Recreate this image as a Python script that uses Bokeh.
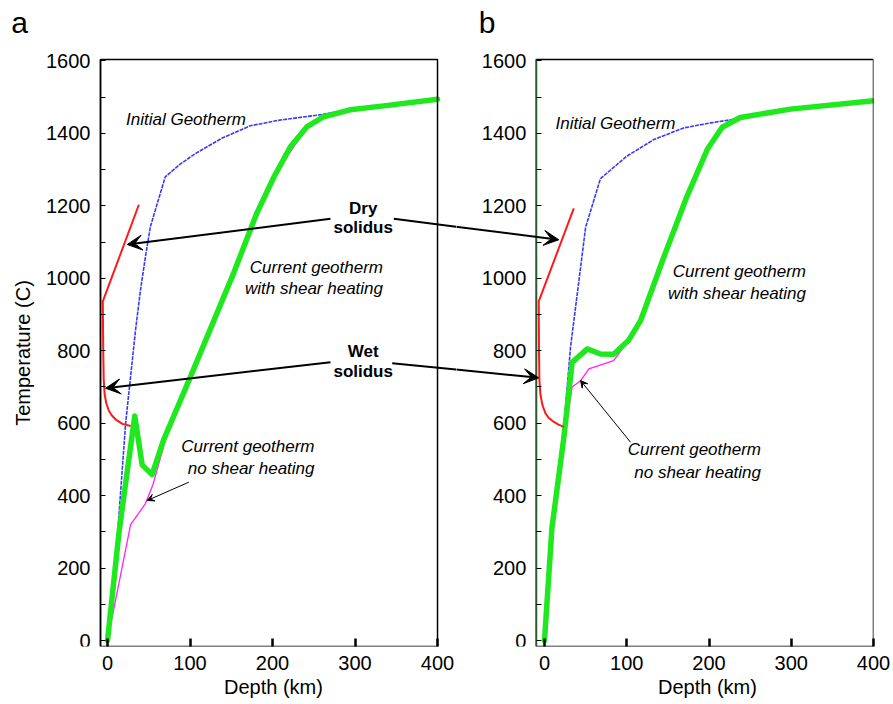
import math
from bokeh.plotting import figure
from bokeh.layouts import row
from bokeh.models import Range1d, FixedTicker, Label, Arrow, VeeHead, LinearAxis, Title
from bokeh.embed import file_html
from bokeh.resources import INLINE

# ---------------- data (depth km, temperature C) ----------------
# panel a
a_solidus_depth = [38, -5.7, -5.2, -4.6, -3.5, -1.5, 1.5, 5, 10, 18, 28]
a_solidus_temp = [1203, 936, 800, 720, 680, 655, 635, 622, 610, 598, 592]
a_initial_depth = [13, 22, 28, 34, 40, 46, 52, 70, 88, 107, 139, 173, 207, 256, 294, 335, 400]
a_initial_temp = [320, 601, 729, 858, 968, 1060, 1143, 1280, 1315, 1345, 1387, 1421, 1436, 1451, 1465, 1476, 1494]
a_shear_depth = [0, 14, 33, 42, 54, 68, 100, 153, 181, 202, 222, 242, 262, 294, 335, 400]
a_shear_temp = [0, 300, 620, 485, 458, 554, 725, 1015, 1180, 1281, 1364, 1419, 1446, 1465, 1476, 1494]
a_noshear_depth = [0, 28, 46, 55, 70, 100, 153, 202, 242, 262, 294, 335, 400]
a_noshear_temp = [0, 320, 378, 430, 552, 725, 1015, 1281, 1419, 1446, 1465, 1476, 1494]

# panel b
b_solidus_depth = [35.6, -7, -6.7, -6.2, -5, -2.5, 1.2, 5, 11, 17, 23.5]
b_solidus_temp = [1193, 936, 800, 720, 680, 650, 627, 615, 604, 596, 590]
b_initial_depth = [9, 23.5, 31.6, 40, 50, 68, 100, 133, 169, 202, 230, 238, 299, 400]
b_initial_temp = [320, 590, 809, 960, 1141, 1275, 1337, 1383, 1415, 1429, 1439, 1444, 1467, 1490]
b_shear_depth = [0, 9, 23.5, 33.6, 52, 68, 84, 102, 117, 145, 173, 198, 216, 238, 299, 400]
b_shear_temp = [0, 310, 560, 768, 805, 791, 790, 828, 884, 1058, 1225, 1356, 1417, 1444, 1467, 1490]
b_noshear_depth = [0, 9, 23.5, 33.6, 43.7, 54, 84, 100.5, 117, 145, 173, 198, 216, 238, 299, 400]
b_noshear_temp = [0, 305, 550, 700, 717, 750, 773, 823, 884, 1058, 1225, 1356, 1417, 1444, 1467, 1490]

y_ticks = [0, 200, 400, 600, 800, 1000, 1200, 1400, 1600]
y_minor = [100, 300, 500, 700, 900, 1100, 1300, 1500]
x_ticks = [0, 100, 200, 300, 400]

# ---------------- layout constants ----------------
W_TOTAL, H = 893, 704
SPLIT = 456                    # px where figure a's canvas ends and b's begins
BOX_TOP, BOX_BOTTOM = 59, 646  # px of the top / bottom edges of both panel boxes
A_LEFT = 100                   # px of panel a box left edge
B_RIGHT = 873                  # px of panel b box right edge
A_XR = (-8.5, 400)             # data extent of panel a box
B_XR = (-10, 400)              # data extent of panel b box
A_SCALE = 0.825                # px per km
B_SCALE = 0.8225
YR = (-16.5, 1604)             # data extent (temperature) of both boxes
Y_SCALE = (BOX_BOTTOM - BOX_TOP) / (YR[1] - YR[0])
YR_FULL = (YR[0], YR[1] + BOX_TOP / Y_SCALE)   # frames reach the top of the canvas

SANS = "Liberation Sans"

# figure frames (px) and their full data ranges
A_SPEC = dict(l=0, r=SPLIT, t=0, b=BOX_BOTTOM,
              xr=(A_XR[0] - A_LEFT / A_SCALE, A_XR[0] + (SPLIT - A_LEFT) / A_SCALE), yr=YR_FULL)
B_SPEC = dict(l=SPLIT, r=B_RIGHT, t=0, b=BOX_BOTTOM,
              xr=(B_XR[1] - (B_RIGHT - SPLIT) / B_SCALE, B_XR[1]), yr=YR_FULL)


def to_data(px, py, s):
    x = s["xr"][0] + (px - s["l"]) * (s["xr"][1] - s["xr"][0]) / (s["r"] - s["l"])
    y = s["yr"][1] - (py - s["t"]) * (s["yr"][1] - s["yr"][0]) / (s["b"] - s["t"])
    return x, y


def style_xaxis(p, s, label_center):
    xa = p.xaxis[0]
    xa.ticker = FixedTicker(ticks=x_ticks)
    xa.major_tick_in = 8
    xa.major_tick_out = 0
    xa.major_tick_line_width = 2.5
    xa.minor_tick_line_color = None
    xa.axis_line_color = None
    xa.major_label_text_font = SANS
    xa.major_label_text_font_size = "20px"
    xa.major_label_text_color = "black"
    xa.major_label_standoff = 9
    t = Title(text="Depth (km)", align="left", offset=label_center - 51.5 - s["l"],
              text_font=SANS, text_font_size="20px", text_font_style="normal",
              text_color="black", standoff=3)
    p.add_layout(t, "below")


def add_yaxis(p, x_at):
    ya = LinearAxis(fixed_location=x_at, bounds=YR)
    ya.ticker = FixedTicker(ticks=y_ticks, minor_ticks=y_minor)
    ya.major_tick_in = 5
    ya.major_tick_out = 0
    ya.minor_tick_in = 5
    ya.minor_tick_out = 0
    ya.axis_line_width = 1.5
    ya.major_label_text_font = SANS
    ya.major_label_text_font_size = "20px"
    ya.major_label_text_color = "black"
    ya.major_label_standoff = 10
    p.add_layout(ya, "left")
    return ya


def base_fig(width, s):
    p = figure(width=width, height=H, x_range=Range1d(*s["xr"]), y_range=Range1d(*s["yr"]),
               output_backend="svg", toolbar_location=None, title=None, y_axis_location=None,
               min_border_left=0,
               min_border_right=(SPLIT if s is A_SPEC else W_TOTAL) - s["r"],
               min_border_top=0, min_border_bottom=H - s["b"])
    p.grid.visible = False
    p.outline_line_color = None
    p.background_fill_color = "white"
    p.border_fill_color = "white"
    return p


def draw_box(p, xr):
    p.quad(left=[xr[0]], right=[xr[1]], bottom=[YR[0]], top=[YR[1]],
           fill_color=None, line_color="black", line_width=1.5)


def draw_curves(p, sd, st, idp, it, sh_d, sh_t, ns_d, ns_t):
    p.line(idp, it, line_color="#3a3af5", line_width=1.6, line_dash="4 1")
    p.line(ns_d, ns_t, line_color="#ff22ff", line_width=1.3)
    p.line(sh_d, sh_t, line_color="#1fe81f", line_width=5.5, line_join="round", line_cap="round")
    p.line(sd, st, line_color="#ff1a1a", line_width=2)


def add_text(p, s, px, py, text, align="center", style="italic", size="17px", angle=0.0):
    x, y = to_data(px, py, s)
    p.add_layout(Label(x=x, y=y, text=text, text_align=align, text_baseline="middle",
                       text_font=SANS, text_font_size=size, text_font_style=style,
                       text_color="black", angle=angle))


def add_arrow(p, s, p0, p1, width=2.0, head=15):
    x0, y0 = to_data(p0[0], p0[1], s)
    x1, y1 = to_data(p1[0], p1[1], s)
    end = VeeHead(size=head, fill_color="black", line_color="black", line_width=1) if head else None
    p.add_layout(Arrow(x_start=x0, y_start=y0, x_end=x1, y_end=y1, end=end,
                       line_color="black", line_width=width))


# ---------------- panel a ----------------
pa = base_fig(SPLIT, A_SPEC)
style_xaxis(pa, A_SPEC, 275)
add_yaxis(pa, A_XR[0])

draw_curves(pa, a_solidus_depth, a_solidus_temp, a_initial_depth, a_initial_temp,
            a_shear_depth, a_shear_temp, a_noshear_depth, a_noshear_temp)
draw_box(pa, A_XR)

add_text(pa, A_SPEC, 19, 22, "a", style="normal", size="30px")
add_text(pa, A_SPEC, 22.5, 352.5, "Temperature (C)", style="normal", size="20px", angle=math.pi / 2)
add_text(pa, A_SPEC, 125.5, 119.3, "Initial Geotherm", align="left")
add_text(pa, A_SPEC, 362.7, 208.3, "Dry", style="bold")
add_text(pa, A_SPEC, 362.7, 227.3, "solidus", style="bold")
add_text(pa, A_SPEC, 382.5, 266.7, "Current geotherm", align="right")
add_text(pa, A_SPEC, 382.5, 288.3, "with shear heating", align="right")
add_text(pa, A_SPEC, 362.7, 351.0, "Wet", style="bold")
add_text(pa, A_SPEC, 362.7, 371.0, "solidus", style="bold")
add_text(pa, A_SPEC, 314.0, 446.0, "Current geotherm", align="right")
add_text(pa, A_SPEC, 314.0, 468.3, "no shear heating", align="right")

add_arrow(pa, A_SPEC, (330, 218.3), (126.7, 244))
add_arrow(pa, A_SPEC, (330, 361.7), (105, 387.7))
add_arrow(pa, A_SPEC, (188.3, 481.7), (146.7, 500), width=1.0, head=7)
# left parts of the arrows that point into panel b
add_arrow(pa, A_SPEC, (393.3, 218.3), (558.3, 239.3), head=0)
add_arrow(pa, A_SPEC, (391.7, 362.7), (538.3, 377.3), head=0)

# ---------------- panel b ----------------
pb = base_fig(W_TOTAL - SPLIT, B_SPEC)
style_xaxis(pb, B_SPEC, 709)
yb = add_yaxis(pb, B_XR[0])
yb.axis_line_color = "#2c5a2c"

draw_curves(pb, b_solidus_depth, b_solidus_temp, b_initial_depth, b_initial_temp,
            b_shear_depth, b_shear_temp, b_noshear_depth, b_noshear_temp)
draw_box(pb, B_XR)

add_text(pb, B_SPEC, 486.7, 21.7, "b", style="normal", size="30px")
add_text(pb, B_SPEC, 555, 122.7, "Initial Geotherm", align="left")
add_text(pb, B_SPEC, 805.5, 270.7, "Current geotherm", align="right")
add_text(pb, B_SPEC, 805.5, 293.3, "with shear heating", align="right")
add_text(pb, B_SPEC, 760.5, 449.3, "Current geotherm", align="right")
add_text(pb, B_SPEC, 760.5, 471.7, "no shear heating", align="right")

add_arrow(pb, B_SPEC, (393.3, 218.3), (558.3, 239.3))
add_arrow(pb, B_SPEC, (391.7, 362.7), (538.3, 377.3))
add_arrow(pb, B_SPEC, (630, 441.7), (580, 380), width=1.0, head=7)

layout = row(pa, pb)
open("out.html", "w").write(file_html(layout, INLINE))
